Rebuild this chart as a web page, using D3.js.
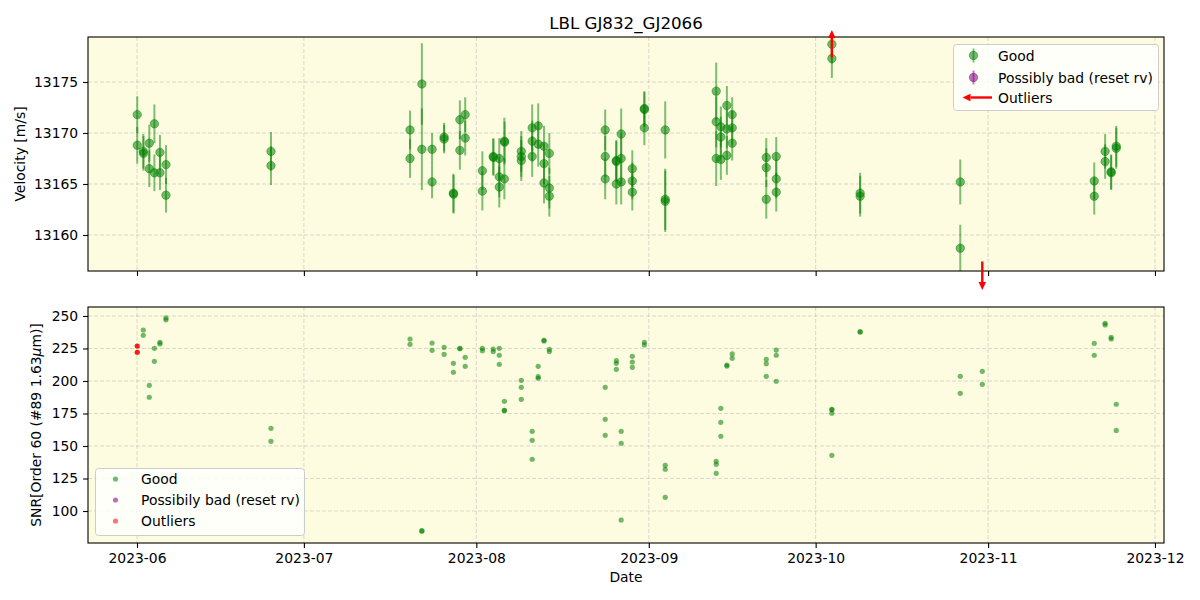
<!DOCTYPE html>
<html><head><meta charset="utf-8">
<script src="https://cdn.jsdelivr.net/npm/d3@7"></script>
<style>body{margin:0;background:#fff} text{font-family:"DejaVu Sans",sans-serif;fill:#000}</style>
</head><body><svg id="chart" width="1200" height="600"></svg>
<script>
const chartTitle = "LBL GJ832_GJ2066";
const xLabel = "Date";
const rvLabel = "Velocity [m/s]";
const legendTopLabels = ["Good", "Possibly bad (reset rv)", "Outliers"];
const legendBottomLabels = ["Good", "Possibily bad (reset rv)", "Outliers"];
const xTickLabels = ["2023-06","2023-07","2023-08","2023-09","2023-10","2023-11","2023-12"];
const rvTicks = [13160, 13165, 13170, 13175];
const snrTicks = [100, 125, 150, 175, 200, 225, 250];

const rvDates = [
 "2023-06-01T01","2023-06-01T01","2023-06-02T03","2023-06-02T04","2023-06-03T05","2023-06-03T05",
 "2023-06-04T03","2023-06-04T03","2023-06-05T03","2023-06-05T03","2023-06-06T05","2023-06-06T05",
 "2023-06-25T02","2023-06-25T02","2023-07-20T02","2023-07-20T02","2023-07-22T05","2023-07-22T05",
 "2023-07-24T01","2023-07-24T01","2023-07-26T05","2023-07-26T05","2023-07-27T21","2023-07-27T22",
 "2023-07-29T01","2023-07-29T01","2023-07-30T00","2023-07-30T00","2023-08-02T02","2023-08-02T02",
 "2023-08-04T01","2023-08-04T02","2023-08-05T03","2023-08-05T03","2023-08-05T03","2023-08-06T01",
 "2023-08-06T02","2023-08-06T01","2023-08-09T02","2023-08-09T02","2023-08-09T02","2023-08-11T01",
 "2023-08-11T01","2023-08-11T01","2023-08-12T03","2023-08-12T03","2023-08-13T04","2023-08-13T04",
 "2023-08-13T04","2023-08-14T03","2023-08-14T03","2023-08-14T03","2023-08-24T04","2023-08-24T04",
 "2023-08-24T04","2023-08-26T04","2023-08-26T04","2023-08-26T04","2023-08-27T01","2023-08-27T01",
 "2023-08-27T01","2023-08-29T01","2023-08-29T01","2023-08-29T01","2023-08-31T05","2023-08-31T05",
 "2023-08-31T05","2023-09-03T23","2023-09-03T23","2023-09-03T23","2023-09-13T03","2023-09-13T03",
 "2023-09-13T03","2023-09-13T23","2023-09-13T23","2023-09-13T23","2023-09-15T01","2023-09-15T01",
 "2023-09-15T01","2023-09-16T00","2023-09-16T00","2023-09-16T00","2023-09-22T03","2023-09-22T03",
 "2023-09-22T03","2023-09-23T22","2023-09-23T22","2023-09-23T22","2023-10-03T22","2023-10-03T22",
 "2023-10-09T00","2023-10-09T00","2023-10-27T00","2023-10-27T00","2023-11-20T02","2023-11-20T02",
 "2023-11-22T01","2023-11-22T01","2023-11-23T03","2023-11-23T03","2023-11-24T01","2023-11-24T01"];
const rvValues = [
 13171.8,13168.8,13168.2,13168.0,13169.0,13166.5,
 13170.9,13166.1,13168.1,13166.1,13166.9,13163.9,
 13168.2,13166.8,13170.3,13167.5,13174.8,13168.4,
 13168.4,13165.2,13169.6,13169.4,13164.1,13164.0,
 13171.3,13168.3,13171.8,13169.5,13166.3,13164.3,
 13167.7,13167.6,13167.5,13165.7,13164.7,13169.2,
 13169.1,13165.5,13168.2,13167.7,13167.3,13170.5,
 13169.2,13167.7,13170.7,13168.9,13168.7,13167.0,
 13165.1,13168.0,13164.6,13163.8,13170.3,13167.7,
 13165.5,13167.3,13167.2,13165.0,13169.9,13167.5,
 13165.2,13166.5,13165.3,13164.2,13172.4,13172.3,
 13170.5,13170.3,13163.5,13163.3,13174.1,13171.1,
 13167.5,13170.6,13169.6,13167.4,13172.7,13170.4,
 13167.8,13171.8,13170.5,13169.0,13167.6,13166.6,
 13163.5,13167.7,13165.5,13164.2,13178.7,13177.3,
 13164.1,13163.8,13165.2,13158.7,13165.3,13163.8,
 13168.2,13167.2,13166.2,13166.1,13168.7,13168.5];
const rvErrors = [
 1.8,1.8,1.7,1.7,1.8,1.8,
 1.9,1.8,1.7,1.7,1.9,1.7,
 1.9,1.9,1.9,1.9,4.0,4.0,
 1.6,1.6,1.4,1.4,1.9,1.9,
 1.9,1.9,1.7,1.7,1.9,1.9,
 1.8,1.8,2.0,2.0,2.0,2.3,
 2.0,2.0,2.0,2.0,2.0,2.3,
 2.0,2.0,2.2,2.2,2.0,2.0,
 2.0,2.0,2.0,2.0,2.0,2.0,
 2.0,2.0,2.0,2.0,2.5,2.5,
 2.2,1.8,1.8,1.8,1.7,1.7,
 1.7,2.8,3.0,3.0,2.8,2.5,
 2.7,2.0,2.0,2.0,1.9,1.9,
 1.9,1.7,1.7,1.7,1.9,1.9,
 1.9,1.9,1.9,1.9,1.9,1.9,
 2.0,2.0,2.2,2.3,1.8,1.8,
 1.7,1.7,1.7,1.7,2.0,2.0];

const outlierArrowDates = ["2023-10-03T22", "2023-10-30T23"];
const outlierArrowFrom = [13177.4, 13157.4];
const outlierArrowTo = [13180.1, 13154.6];

const snrDates = [
 "2023-06-02T03","2023-06-02T03","2023-06-03T05","2023-06-03T05","2023-06-04T03","2023-06-04T03",
 "2023-06-05T03","2023-06-05T03","2023-06-06T05","2023-06-06T05","2023-06-25T02","2023-06-25T02",
 "2023-07-20T02","2023-07-20T02","2023-07-22T05","2023-07-22T05","2023-07-24T01","2023-07-24T01",
 "2023-07-26T05","2023-07-26T05","2023-07-27T21","2023-07-27T21","2023-07-29T01","2023-07-29T01",
 "2023-07-30T00","2023-07-30T00","2023-08-02T02","2023-08-02T02","2023-08-04T01","2023-08-04T01",
 "2023-08-05T03","2023-08-05T03","2023-08-05T03","2023-08-06T01","2023-08-06T01","2023-08-06T01",
 "2023-08-09T02","2023-08-09T02","2023-08-09T02","2023-08-11T01","2023-08-11T01","2023-08-11T01",
 "2023-08-12T03","2023-08-12T03","2023-08-12T03","2023-08-13T04","2023-08-13T04","2023-08-14T03",
 "2023-08-14T03","2023-08-24T04","2023-08-24T04","2023-08-24T04","2023-08-26T04","2023-08-26T04",
 "2023-08-26T04","2023-08-27T01","2023-08-27T01","2023-08-27T01","2023-08-29T01","2023-08-29T01",
 "2023-08-29T01","2023-08-31T05","2023-08-31T05","2023-09-03T23","2023-09-03T23","2023-09-03T23",
 "2023-09-13T03","2023-09-13T03","2023-09-13T03","2023-09-13T23","2023-09-13T23","2023-09-13T23",
 "2023-09-15T01","2023-09-15T01","2023-09-16T00","2023-09-16T00","2023-09-22T03","2023-09-22T03",
 "2023-09-22T03","2023-09-23T22","2023-09-23T22","2023-09-23T22","2023-10-03T22","2023-10-03T22",
 "2023-10-03T22","2023-10-03T22","2023-10-09T00","2023-10-09T00","2023-10-27T00","2023-10-27T00",
 "2023-10-30T23","2023-10-30T23","2023-11-20T02","2023-11-20T02","2023-11-22T01","2023-11-22T01",
 "2023-11-23T03","2023-11-23T03","2023-11-24T01","2023-11-24T01"];
const snrValues = [
 239.2,235.1,196.7,187.5,225.1,215.1,
 229.7,228.5,248.5,247.0,163.6,153.6,
 232.3,228.2,84.9,84.5,229.2,223.6,
 225.9,220.5,213.6,206.7,225.1,224.8,
 218.2,211.3,225.1,223.3,224.6,222.6,
 225.1,219.8,212.8,184.4,177.5,177.2,
 200.5,195.1,185.9,161.3,154.4,139.8,
 211.3,203.3,202.1,231.3,230.8,224.4,
 222.6,195.1,170.5,158.2,215.6,213.6,
 209.0,161.3,152.1,93.0,219.0,214.6,
 210.5,229.7,227.7,135.1,132.1,110.5,
 138.2,135.9,129.0,179.0,168.2,157.5,
 212.3,211.5,220.8,217.4,216.7,213.3,
 203.6,223.8,219.8,199.8,178.2,177.8,
 175.2,142.8,237.9,237.6,203.6,190.5,
 207.4,197.4,229.0,219.8,244.4,243.1,
 233.6,232.3,182.1,162.0];
const snrOutlierDates = ["2023-06-01T01","2023-06-01T01"];
const snrOutlierValues = [226.9, 222.1];

// ---------- drawing ----------
const W = 1200, H = 600;
const svg = d3.select("#chart");
svg.append("rect").attr("width", W).attr("height", H).attr("fill", "#fff");

const parse = d3.utcParse("%Y-%m-%dT%H");
const parseMonth = d3.utcParse("%Y-%m");
const fmtMonth = d3.utcFormat("%Y-%m");

const L = 88, R = 1164;
const top1 = 37, bot1 = 271, top2 = 307, bot2 = 543;
const BG = "#fdfce0";
const GREEN = "#008000";

const x = d3.scaleUtc()
  .domain([new Date(Date.UTC(2023, 4, 23, 4, 34)), new Date(Date.UTC(2023, 11, 2, 15, 0))])
  .range([L, R]);
const y1 = d3.scaleLinear().domain([13156.47, 13179.41]).range([bot1, top1]);
const y2 = d3.scaleLinear().domain([75.4, 256.9]).range([bot2, top2]);
const xTickDates = xTickLabels.map(parseMonth);

const defs = svg.append("defs");
defs.append("clipPath").attr("id", "clip1").append("rect")
  .attr("x", L).attr("y", top1).attr("width", R - L).attr("height", bot1 - top1);
defs.append("clipPath").attr("id", "clip2").append("rect")
  .attr("x", L).attr("y", top2).attr("width", R - L).attr("height", bot2 - top2);

function panel(yScale, yTicks, t, b, showXLabels) {
  svg.append("rect").attr("x", L).attr("y", t).attr("width", R - L).attr("height", b - t).attr("fill", BG);
  const g = svg.append("g");
  g.selectAll(".gx").data(xTickDates).join("line")
    .attr("x1", d => x(d)).attr("x2", d => x(d)).attr("y1", t).attr("y2", b)
    .attr("stroke", "#b0b0b0").attr("stroke-opacity", 0.6).attr("stroke-width", 0.8).attr("stroke-dasharray", "4,2");
  g.selectAll(".gy").data(yTicks).join("line")
    .attr("x1", L).attr("x2", R).attr("y1", d => yScale(d)).attr("y2", d => yScale(d))
    .attr("stroke", "#b0b0b0").attr("stroke-opacity", 0.6).attr("stroke-width", 0.8).attr("stroke-dasharray", "4,2");
  const ax = d3.axisBottom(x).tickValues(xTickDates).tickSize(4.9).tickPadding(4.9)
    .tickFormat(showXLabels ? fmtMonth : () => "");
  const gx = svg.append("g").attr("transform", `translate(0,${b})`).call(ax);
  const ay = d3.axisLeft(yScale).tickValues(yTicks).tickSize(4.9).tickPadding(4.9).tickFormat(d3.format("d"));
  const gy = svg.append("g").attr("transform", `translate(${L},0)`).call(ay);
  [gx, gy].forEach(gg => {
    gg.select(".domain").remove();
    gg.selectAll(".tick line").attr("stroke", "#000").attr("stroke-width", 1.1);
    gg.selectAll(".tick text").attr("font-family", "DejaVu Sans").attr("font-size", "13.9px").attr("fill", "#000");
  });
  return g;
}

function frame(t, b) {
  svg.append("rect").attr("x", L).attr("y", t).attr("width", R - L).attr("height", b - t)
    .attr("fill", "none").attr("stroke", "#000").attr("stroke-width", 1.1);
}

// ---- top panel ----
panel(y1, rvTicks, top1, bot1, false);
const rv = rvDates.map((d, i) => ({ date: parse(d), v: rvValues[i], e: rvErrors[i] }));
const d1 = svg.append("g").attr("clip-path", "url(#clip1)");
d1.selectAll(".eb").data(rv).join("line")
  .attr("x1", d => x(d.date)).attr("x2", d => x(d.date))
  .attr("y1", d => y1(d.v - d.e)).attr("y2", d => y1(d.v + d.e))
  .attr("stroke", GREEN).attr("stroke-opacity", 0.5).attr("stroke-width", 2);
d1.selectAll(".pt").data(rv).join("circle")
  .attr("cx", d => x(d.date)).attr("cy", d => y1(d.v)).attr("r", 4.2)
  .attr("fill", GREEN).attr("fill-opacity", 0.55)
  .attr("stroke", GREEN).attr("stroke-opacity", 0.45).attr("stroke-width", 1);
frame(top1, bot1);

function arrow(g, x1p, y1p, x2p, y2p, color, w, hl, hw) {
  const ang = Math.atan2(y2p - y1p, x2p - x1p);
  const bx = x2p - hl * Math.cos(ang), by = y2p - hl * Math.sin(ang);
  g.append("line").attr("x1", x1p).attr("y1", y1p).attr("x2", bx).attr("y2", by)
    .attr("stroke", color).attr("stroke-width", w);
  const px = -Math.sin(ang) * hw / 2, py = Math.cos(ang) * hw / 2;
  g.append("path").attr("d", `M${x2p},${y2p}L${bx + px},${by + py}L${bx - px},${by - py}Z`).attr("fill", color);
}
const arrG = svg.append("g");
outlierArrowDates.forEach((d, i) => {
  const xp = x(parse(d));
  arrow(arrG, xp, y1(outlierArrowFrom[i]), xp, y1(outlierArrowTo[i]), "#ff0000", 2.4, 8, 7.5);
});

// ---- bottom panel ----
panel(y2, snrTicks, top2, bot2, true);
const d2 = svg.append("g").attr("clip-path", "url(#clip2)");
d2.selectAll(".sg").data(snrDates.map((d, i) => ({ date: parse(d), v: snrValues[i] }))).join("circle")
  .attr("cx", d => x(d.date)).attr("cy", d => y2(d.v)).attr("r", 2.6)
  .attr("fill", GREEN).attr("fill-opacity", 0.55);
d2.selectAll(".so").data(snrOutlierDates.map((d, i) => ({ date: parse(d), v: snrOutlierValues[i] }))).join("circle")
  .attr("cx", d => x(d.date)).attr("cy", d => y2(d.v)).attr("r", 2.6)
  .attr("fill", "#ff0000").attr("fill-opacity", 0.9);
frame(top2, bot2);

// ---- text ----
svg.append("text").attr("x", (L + R) / 2).attr("y", 28.5).attr("text-anchor", "middle")
  .attr("font-size", "16.7px").text(chartTitle);
svg.append("text").attr("x", (L + R) / 2).attr("y", 582).attr("text-anchor", "middle")
  .attr("font-size", "13.9px").text(xLabel);
svg.append("text").attr("transform", `translate(25,${(top1 + bot1) / 2}) rotate(-90)`)
  .attr("text-anchor", "middle").attr("font-size", "13.9px").text(rvLabel);
const snrT = svg.append("text").attr("transform", `translate(41,${(top2 + bot2) / 2}) rotate(-90)`)
  .attr("text-anchor", "middle").attr("font-size", "13.9px");
snrT.append("tspan").text("SNR[Order 60 (#89 1.63");
snrT.append("tspan").attr("font-style", "italic").text("μ");
snrT.append("tspan").text("m)]");

// ---- legends ----
function legendBox(x0, y0, w, h) {
  svg.append("rect").attr("x", x0).attr("y", y0).attr("width", w).attr("height", h).attr("rx", 3)
    .attr("fill", "#fff").attr("fill-opacity", 0.8).attr("stroke", "#cccccc").attr("stroke-width", 1);
}
legendBox(953.5, 44.5, 205, 66);
const topColors = [GREEN, "#800080"];
const topRows = [55.5, 77.5, 97.5];
topColors.forEach((c, i) => {
  svg.append("line").attr("x1", 973.5).attr("x2", 973.5).attr("y1", topRows[i] - 7).attr("y2", topRows[i] + 7)
    .attr("stroke", c).attr("stroke-opacity", 0.5).attr("stroke-width", 2);
  svg.append("circle").attr("cx", 973.5).attr("cy", topRows[i]).attr("r", 4.2)
    .attr("fill", c).attr("fill-opacity", 0.55).attr("stroke", c).attr("stroke-opacity", 0.45);
});
arrow(svg.append("g"), 992, topRows[2], 962.5, topRows[2], "#ff0000", 2.4, 8, 7.5);
legendTopLabels.forEach((t, i) => {
  svg.append("text").attr("x", 998).attr("y", topRows[i] + 5).attr("font-size", "13.9px").text(t);
});
legendBox(95.5, 468.5, 209, 67);
const botColors = [GREEN, "#800080", "#ff0000"];
const botRows = [479, 500, 521];
botColors.forEach((c, i) => {
  svg.append("circle").attr("cx", 115.5).attr("cy", botRows[i]).attr("r", 2.6).attr("fill", c).attr("fill-opacity", 0.55);
  svg.append("text").attr("x", 141).attr("y", botRows[i] + 5).attr("font-size", "13.9px").text(legendBottomLabels[i]);
});
</script></body></html>
